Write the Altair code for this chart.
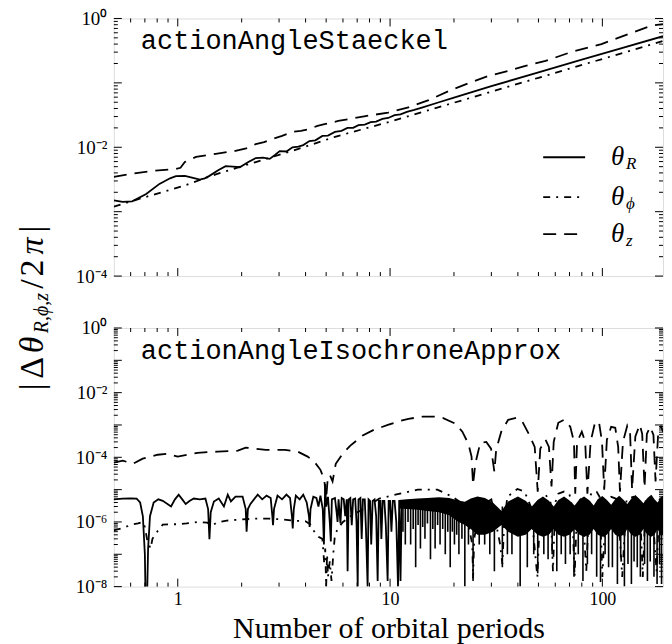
import altair as alt
import pandas as pd

SERIF = "Liberation Serif"
MONO = "Liberation Mono"

# ---------------- data ----------------
# top panel: actionAngleStaeckel
TOP_R = [(0.5, 1.5e-3), (0.55, 1.42e-3), (0.61, 1.45e-3), (0.71, 1.88e-3), (0.82, 2.7e-3),
         (0.92, 3.3e-3), (0.98, 3.56e-3), (1.08, 3.6e-3), (1.18, 3.35e-3), (1.27, 3.15e-3),
         (1.34, 3.3e-3), (1.41, 3.6e-3), (1.55, 4.4e-3), (1.68, 5.1e-3), (1.82, 5.0e-3),
         (1.96, 4.9e-3), (2.15, 5.9e-3), (2.33, 6.8e-3), (2.52, 6.9e-3), (2.71, 6.6e-3),
         (2.87, 7.6e-3), (3.02, 8.7e-3), (3.25, 8.6e-3), (3.47, 1.0e-2), (3.7, 1.02e-2),
         (3.9, 1.08e-2), (4.17, 1.25e-2), (4.45, 1.28e-2), (4.8, 1.5e-2), (5.1, 1.52e-2),
         (5.5, 1.73e-2), (5.9, 1.8e-2), (6.3, 2.0e-2), (6.7, 2.0e-2), (7.1, 2.2e-2),
         (7.6, 2.25e-2), (8.1, 2.45e-2), (8.6, 2.5e-2), (9.2, 2.75e-2), (9.8, 2.85e-2),
         (10.5, 3.15e-2), (11.2, 3.25e-2), (12, 3.55e-2), (13, 3.8e-2), (14, 4.1e-2),
         (17, 5.0e-2), (20, 5.9e-2), (30, 8.9e-2), (50, 0.145), (80, 0.23), (120, 0.336),
         (193, 0.53)]
TOP_PHI = [(0.5, 1.2e-3), (0.55, 1.32e-3), (0.71, 1.7e-3), (1.06, 2.5e-3), (1.51, 3.8e-3),
           (2.33, 5.9e-3), (3.47, 8.8e-3), (5.5, 1.45e-2), (10, 2.5e-2), (17, 4.2e-2),
           (30, 7.3e-2), (50, 0.12), (100, 0.235), (193, 0.447)]
TOP_Z = [(0.5, 3.47e-3), (0.61, 3.9e-3), (0.76, 4.3e-3), (0.98, 4.6e-3), (1.03, 4.8e-3),
         (1.08, 5.9e-3), (1.22, 7.1e-3), (1.51, 7.9e-3), (1.87, 8.8e-3), (2.1, 9.6e-3),
         (2.33, 1.12e-2), (2.55, 1.2e-2), (2.8, 1.35e-2), (3.1, 1.5e-2), (3.47, 1.73e-2),
         (3.8, 1.8e-2), (4.17, 1.92e-2), (4.55, 2.15e-2), (4.97, 2.3e-2), (5.7, 2.56e-2),
         (6.6, 2.8e-2), (7.67, 3.05e-2), (9.8, 3.45e-2), (12.2, 4.15e-2), (15.2, 5.4e-2),
         (18.8, 7.4e-2), (24.2, 0.103), (29.1, 0.128), (36, 0.153), (43, 0.182), (54, 0.219),
         (71, 0.30), (99, 0.40), (132, 0.57), (170, 0.77), (193, 0.82)]

# bottom panel: actionAngleIsochroneApprox
BOT_R = [(0.50, 5.0e-6), (0.55, 5.3e-6), (0.60, 5.4e-6), (0.64, 5.3e-6), (0.665, 4.0e-6),
         (0.685, 1.5e-6), (0.70, 1.0e-7), (0.706, 3e-9), (0.716, 3e-9), (0.725, 1.5e-7),
         (0.74, 1.5e-6), (0.77, 4.0e-6), (0.81, 5.0e-6), (0.85, 4.5e-6), (0.93, 3.0e-6),
         (0.97, 5e-6), (1.01, 7.0e-6), (1.05, 5.0e-6), (1.09, 3.6e-6), (1.14, 4.5e-6),
         (1.19, 5.3e-6), (1.27, 5.0e-6), (1.35, 5.3e-6), (1.39, 2.5e-6), (1.41, 2.9e-7),
         (1.43, 2.0e-6), (1.48, 4.3e-6), (1.56, 5.3e-6), (1.65, 3.0e-6), (1.72, 7.0e-6),
         (1.78, 4.3e-6), (1.87, 6.1e-6), (2.02, 6.1e-6), (2.09, 2.5e-6), (2.11, 5.0e-7),
         (2.14, 2.5e-6), (2.2, 3.6e-6), (2.38, 7.0e-6), (2.5, 5.0e-6), (2.62, 6.5e-6),
         (2.74, 5.5e-6), (2.79, 1.5e-6), (2.81, 8.0e-7), (2.84, 2.5e-6), (2.95, 6.5e-6),
         (3.1, 5.0e-6), (3.25, 7.0e-6), (3.38, 5.5e-6), (3.45, 1.5e-6), (3.48, 6.3e-7),
         (3.52, 2.5e-6), (3.6, 6.5e-6), (3.75, 5.0e-6), (3.9, 7.0e-6), (4.05, 4.0e-6),
         (4.15, 1.5e-6), (4.18, 7.0e-7), (4.22, 2.5e-6), (4.35, 6.0e-6), (4.5, 5.5e-6),
         (4.6, 3.0e-6), (4.7, 6.5e-6), (4.82, 2.5e-6), (4.88, 2.0e-7), (4.95, 1.5e-5),
         (5.0, 3e-6), (5.1, 6e-6), (5.2, 1e-6), (5.26, 2.5e-7), (5.32, 5e-6), (5.5, 5.5e-6),
         (5.6, 2e-6), (5.66, 1e-6), (5.72, 5e-6), (5.84, 9e-7), (5.92, 5.5e-6), (6.05, 5e-6),
         (6.15, 1.5e-6), (6.25, 5e-6), (6.31, 3e-8), (6.38, 5e-6), (6.5, 5.5e-6), (6.6, 8e-7),
         (6.7, 5e-6), (6.85, 5.3e-6), (6.95, 1.0e-6), (7.04, 1e-8), (7.1, 5e-6), (7.25, 5.5e-6),
         (7.35, 3e-7), (7.45, 5e-6), (7.6, 5e-6), (7.7, 6e-7), (7.84, 1e-8), (7.92, 5e-6),
         (8.05, 4.5e-6), (8.15, 2e-7), (8.28, 4.5e-6), (8.45, 5e-6), (8.6, 1.5e-6),
         (8.74, 1.5e-8), (8.85, 4.5e-6), (9.0, 4.5e-6), (9.1, 3e-7), (9.23, 4.5e-6),
         (9.4, 4.5e-6), (9.55, 8e-7), (9.74, 1.5e-8), (9.85, 4.5e-6), (10.0, 4.5e-6),
         (10.15, 5e-7), (10.3, 4.5e-6), (10.5, 4.5e-6), (10.7, 1e-6), (10.9, 1e-8),
         (11.05, 4.8e-6), (11.2, 1.5e-8), (11.35, 4.8e-6)]
# dense part of theta_R: upper envelope and lower edge of the solid black band
BOT_R_BAND = [(11.0, 4.8e-6, 2.6e-6), (12.0, 5.0e-6, 2.5e-6), (13.5, 5.3e-6, 2.4e-6),
              (15.0, 5.5e-6, 2.2e-6), (17.0, 5.8e-6, 2.0e-6), (19.0, 5.5e-6, 1.6e-6),
              (21.0, 4.6e-6, 1.0e-6), (22.5, 4.2e-6, 8e-7), (24.0, 5.3e-6, 6e-7),
              (25.8, 6.1e-6, 4e-7), (28.0, 5.5e-6, 4e-7), (30.5, 4.0e-6, 5e-7),
              (33.5, 2.2e-6, 8e-7), (36.0, 4.3e-6, 5e-7), (40.0, 6.1e-6, 3.5e-7),
              (43.5, 4.5e-6, 4e-7), (46.5, 3.0e-6, 6e-7), (49.5, 4.8e-6, 4e-7),
              (52.5, 6.1e-6, 3.5e-7), (56.0, 4.5e-6, 4e-7), (59.0, 3.0e-6, 6e-7),
              (62.0, 4.8e-6, 4e-7), (66.0, 6.1e-6, 3.5e-7), (70.0, 4.6e-6, 4e-7),
              (74.0, 3.2e-6, 6e-7), (78.0, 5.0e-6, 4e-7), (82.0, 6.1e-6, 3.5e-7),
              (87.0, 4.6e-6, 4e-7), (91.0, 3.2e-6, 6e-7), (95.0, 5.0e-6, 4e-7),
              (100.0, 6.3e-6, 3.5e-7), (105.0, 4.8e-6, 4e-7), (110.0, 3.4e-6, 6e-7),
              (115.0, 5.0e-6, 4e-7), (120.0, 6.5e-6, 3.5e-7), (126.0, 4.8e-6, 4e-7),
              (131.0, 3.6e-6, 6e-7), (137.0, 5.3e-6, 4e-7), (143.0, 6.8e-6, 3.5e-7),
              (150.0, 5.0e-6, 4e-7), (156.0, 3.8e-6, 6e-7), (163.0, 5.5e-6, 4e-7),
              (170.0, 7.0e-6, 3.5e-7), (176.0, 5.0e-6, 4e-7), (182.0, 4.0e-6, 6e-7),
              (188.0, 5.5e-6, 4e-7), (193.0, 6.5e-6, 4e-7)]
# downward spikes of theta_R in the dense part (x, depth)
BOT_R_SPIKES = [(11.5, 5e-7), (11.8, 2e-7), (12.15, 1e-6), (12.5, 2e-7), (12.85, 6e-7),
                (13.2, 4e-8), (13.55, 8e-7), (13.9, 1.5e-7), (14.25, 7e-7), (14.6, 3e-7),
                (15.0, 9e-7), (15.5, 7e-8), (15.9, 6e-7), (16.3, 1.5e-7), (16.75, 8e-7),
                (17.2, 2e-7), (17.7, 6e-7), (18.2, 1e-7), (18.7, 5e-7), (19.2, 4e-8),
                (19.65, 5e-7), (20.1, 2e-7), (20.6, 4e-7), (21.1, 1e-7), (21.8, 3e-7),
                (22.5, 1e-8), (23.4, 2e-7), (24.6, 1.5e-8), (26.3, 2e-7), (27.9, 2e-7),
                (29.5, 1e-7), (31.0, 3e-8), (33.8, 4e-8), (35.7, 1e-7), (37.5, 1e-7),
                (41.0, 1e-8), (44.3, 4e-8), (47.5, 1e-7), (49.6, 2.6e-8), (53, 1e-7),
                (55.5, 7e-8), (58, 1e-7), (61, 3e-8), (64, 1e-7), (67, 5e-8), (70.5, 1e-7),
                (73.5, 2e-8), (77, 1e-7), (81, 1.5e-8), (85, 5e-8), (89, 1e-7), (94, 2e-8),
                (98, 1.4e-8), (103, 1e-7), (107, 4e-8), (111.5, 4e-8), (117.7, 1.2e-8),
                (122, 8e-8), (127, 1e-8), (132, 5e-8), (137, 1.2e-8), (141, 6e-8), (146, 4e-8),
                (151, 2e-8), (158, 5e-8), (163, 1.5e-8), (168, 6e-8), (175, 2e-8),
                (181, 1.2e-8), (186, 5e-8), (190, 1.2e-8)]
BOT_PHI = [(0.5, 5.5e-7), (0.55, 6.5e-7), (0.61, 8.3e-7), (0.65, 9e-7), (0.684, 1.0e-6),
           (0.7, 7e-7), (0.72, 2.5e-7), (0.745, 1.5e-7), (0.76, 3e-7), (0.8, 5e-7),
           (0.85, 8.3e-7), (0.93, 8.5e-7), (1.0, 8.5e-7), (1.1, 9e-7), (1.25, 1.0e-6),
           (1.38, 9.5e-7), (1.45, 7.5e-7), (1.52, 9.5e-7), (1.7, 1.1e-6), (2.0, 1.2e-6),
           (2.3, 1.26e-6), (2.7, 1.26e-6), (3.1, 1.2e-6), (3.5, 1.1e-6), (4.0, 1.05e-6),
           (4.2, 8.5e-7), (4.4, 5.0e-7), (4.6, 3.5e-7), (4.8, 3e-7), (4.9, 5e-8),
           (4.95, 1.5e-7), (5.0, 1e-8), (5.05, 1e-7), (5.1, 2e-8), (5.2, 6e-8), (5.3, 1.5e-8),
           (5.4, 1e-7), (5.5, 4e-7), (5.7, 6.5e-7), (6.0, 1e-6), (6.6, 1.6e-6), (7.5, 2.5e-6),
           (8.9, 5.3e-6), (10.6, 7e-6), (13.5, 1.0e-5), (16.7, 1.0e-5), (19.7, 6e-6),
           (21.5, 4e-6), (23, 1.5e-6), (24.4, 2e-7), (24.6, 1.8e-8), (24.9, 3e-7),
           (26.5, 3e-6), (30, 5e-6), (33, 2e-7), (33.8, 5e-8), (34.5, 1e-6), (35.7, 6e-6),
           (39.8, 1.05e-5), (43, 8.7e-6), (46, 3e-6), (49.4, 2e-8), (51, 3e-6), (54, 7e-6),
           (57, 4e-6), (58.5, 3e-8), (60, 4e-6), (62, 7.5e-6), (66, 8.7e-6), (70, 7e-6),
           (72, 3e-6), (74, 2e-8), (76, 3e-6), (80, 6e-6), (84, 3e-8), (87, 6e-6), (90, 8.7e-6),
           (94, 8.5e-6), (97, 6e-6), (100, 2e-8), (104, 4e-6), (110, 6e-6), (118, 5e-6),
           (124, 2e-8), (130, 5e-6), (140, 6e-6), (150, 4e-6), (155, 2e-8), (160, 5e-6),
           (170, 6e-6), (180, 3e-8), (186, 5e-6), (193, 6e-6)]
BOT_Z = [(0.5, 6.8e-5), (0.551, 7.9e-5), (0.614, 6.3e-5), (0.684, 9.1e-5), (0.805, 1.2e-4),
         (0.897, 1.29e-4), (1.0, 1.05e-4), (1.24, 1.38e-4), (1.54, 1.5e-4), (1.92, 1.6e-4),
         (2.09, 2.0e-4), (2.6, 1.7e-4), (3.2, 1.7e-4), (3.67, 1.5e-4), (4.09, 1.05e-4),
         (4.4, 7.3e-5), (4.7, 4.1e-5), (4.9, 2.0e-5), (5.0, 5.3e-6), (5.08, 2e-5),
         (5.2, 2.9e-5), (5.36, 1.8e-5), (5.55, 6.3e-5), (5.98, 1.29e-4), (6.5, 2.3e-4),
         (7.43, 4.7e-4), (8.4, 7.1e-4), (9.84, 1.02e-3), (11.2, 1.35e-3), (12.2, 1.55e-3),
         (14.2, 1.8e-3), (16.2, 1.8e-3), (17.7, 1.66e-3), (20.3, 1.1e-3), (21.9, 6.2e-4),
         (23.4, 2.6e-4), (24.2, 1.05e-4), (24.6, 1.4e-5), (25.2, 6.3e-5), (26.6, 2.8e-4),
         (28.4, 3.0e-4), (29.9, 1.85e-4), (31, 3.6e-5), (31.6, 1.7e-4), (33.4, 6.2e-4),
         (36, 1.45e-3), (39.3, 1.66e-3), (42, 1.26e-3), (45, 5.3e-4), (48, 2.1e-4),
         (49.6, 8.7e-6), (51, 1.85e-4), (54, 3.5e-4), (56, 2.1e-4), (57.6, 1.25e-5),
         (59, 3e-4), (62, 1.17e-3), (66, 1.45e-3), (70.6, 8.8e-4), (73.5, 3e-4),
         (74.5, 7.5e-6), (76, 3e-4), (80, 6.2e-4), (83, 3e-4), (85, 7.5e-6), (88, 3e-4),
         (92.5, 1.26e-3), (96.5, 1.17e-3), (99.6, 3e-4), (102, 1e-5), (105, 3.5e-4),
         (110, 8.8e-4), (115, 8.2e-4), (118.7, 2.1e-4), (121, 8.7e-6), (125, 3e-4),
         (131, 9.5e-4), (135, 6.2e-4), (138, 1e-5), (143, 4.4e-4), (150, 1.02e-3),
         (154, 5.3e-4), (158, 1.15e-5), (162, 5.3e-4), (168, 8.8e-4), (174, 4.9e-4),
         (178, 1.8e-5), (183, 4.9e-4), (189, 8.8e-4), (193, 6.2e-4)]

# ticks / labels
X_DOMAIN = [0.5, 193]
X_LABELS = [1, 10, 100]
X_MINOR = [0.6, 0.7, 0.8, 0.9, 2, 3, 4, 5, 6, 7, 8, 9, 20, 30, 40, 50, 60, 70, 80, 90]
TOP_Y_LABELS = [1, 1e-2, 1e-4]
BOT_Y_LABELS = [1, 1e-2, 1e-4, 1e-6, 1e-8]
TOP_DECADES = [1, 1e-1, 1e-2, 1e-3, 1e-4]
BOT_DECADES = [1, 1e-1, 1e-2, 1e-3, 1e-4, 1e-5, 1e-6, 1e-7, 1e-8]
MINOR_MULT = [2, 3, 4, 5, 6, 7, 8, 9]
LEGEND_SUBS = ["R", "ϕ", "z"]
# y-axis title pieces: text, style, size
YTITLE = [("|", "normal", 34), ("Δ", "normal", 34), ("θ", "italic", 34),
          ("R,ϕ,z", "italic", 20), ("/", "normal", 34), ("2", "normal", 34),
          ("π", "italic", 34), ("|", "normal", 34)]
YTITLE_POS = [369, 350, 327, 295, 266, 250, 228, 211]

W, H_TOP, H_BOT = 550, 258, 259
LW = 1.8
DASH = [13, 8]
DASHDOT = [7, 6, 2, 6]

Y_LABEL_EXPR = ("datum.value > 0.5 ? '10⁰' : datum.value > 0.05 ? '10⁻¹' : "
                "datum.value > 0.005 ? '10⁻²' : datum.value > 0.0005 ? '10⁻³' : "
                "datum.value > 0.00005 ? '10⁻⁴' : datum.value > 0.0000005 ? '10⁻⁶' : '10⁻⁸'")


def pts(lst, cols=("x", "y")):
    return pd.DataFrame(lst, columns=list(cols))


def txt(s, x, y, size, font=SERIF, style="normal", angle=0, align="left", baseline="middle"):
    return alt.Chart(pd.DataFrame({"t": [s]})).mark_text(
        align=align, baseline=baseline, font=font, fontSize=size, fontStyle=style,
        angle=angle, color="black").encode(x=alt.value(x), y=alt.value(y), text="t:N")


def panel(height, ydom, ylabels, decades, lines, extra, show_x, title_text):
    xs = alt.Scale(type="log", domain=X_DOMAIN, nice=False)
    ys = alt.Scale(type="log", domain=ydom, nice=False)
    xaxis = alt.Axis(values=X_LABELS, format="d", ticks=False, domain=False, grid=False,
                     labels=show_x, title="Number of orbital periods" if show_x else None,
                     labelFont=SERIF, labelFontSize=18, labelColor="black", labelPadding=4,
                     titleFont=SERIF, titleFontSize=30, titleFontWeight="normal",
                     titleColor="black", titlePadding=5)
    yaxis = alt.Axis(values=ylabels, labelExpr=Y_LABEL_EXPR, ticks=False, domain=False,
                     grid=False, title=None, labelFont=SERIF, labelFontSize=19,
                     labelColor="black", labelPadding=7)
    X = alt.X("x:Q", scale=xs, axis=xaxis)
    Y = alt.Y("y:Q", scale=ys, axis=yaxis)

    layers = []
    for kind, df in extra:
        if kind == "band":
            layers.append(alt.Chart(df).mark_area(color="black", clip=True)
                          .encode(x=X, y=Y, y2=alt.Y2("y2:Q")))
        elif kind == "spikes":
            layers.append(alt.Chart(df).mark_rule(color="black", strokeWidth=1.6, clip=True)
                          .encode(x=X, y=Y, y2=alt.Y2("y2:Q")))
    for df, dash in lines:
        kw = dict(color="black", strokeWidth=LW, clip=True)
        if dash:
            kw["strokeDash"] = dash
        layers.append(alt.Chart(df).mark_line(**kw).encode(x=X, y=Y))

    # inward ticks on all four sides
    xmaj = pd.DataFrame({"x": X_LABELS})
    xmin = pd.DataFrame({"x": X_MINOR})
    ymaj = pd.DataFrame({"y": decades})
    ymin = pd.DataFrame({"y": [m * d for d in decades[1:] for m in MINOR_MULT]})
    for df, L in ((xmaj, 8), (xmin, 4)):
        layers.append(alt.Chart(df).mark_rule(color="black", strokeWidth=1)
                      .encode(x=X, y=alt.value(0), y2=alt.value(L)))
        layers.append(alt.Chart(df).mark_rule(color="black", strokeWidth=1)
                      .encode(x=X, y=alt.value(height), y2=alt.value(height - L)))
    for df, L in ((ymaj, 8), (ymin, 4)):
        layers.append(alt.Chart(df).mark_rule(color="black", strokeWidth=1)
                      .encode(y=Y, x=alt.value(0), x2=alt.value(L)))
        layers.append(alt.Chart(df).mark_rule(color="black", strokeWidth=1)
                      .encode(y=Y, x=alt.value(W), x2=alt.value(W - L)))

    layers.append(txt(title_text, 27, 31, 27, font=MONO, baseline="alphabetic"))
    return layers


# ---------------- top panel ----------------
top_layers = panel(
    H_TOP, [1e-4, 1], TOP_Y_LABELS, TOP_DECADES,
    [(pts(TOP_R), None), (pts(TOP_PHI), DASHDOT), (pts(TOP_Z), DASH)],
    [], False, "actionAngleStaeckel")

# legend (inside top panel)
for ly, dash, sub in zip([139, 179, 216], [None, DASHDOT, DASH], LEGEND_SUBS):
    kw = dict(color="black", strokeWidth=LW)
    if dash:
        kw["strokeDash"] = dash
    top_layers.append(alt.Chart(pd.DataFrame({"a": [0]})).mark_rule(**kw)
                      .encode(x=alt.value(430), x2=alt.value(472), y=alt.value(ly)))
    top_layers.append(txt("θ", 498, ly, 27, style="italic"))
    top_layers.append(txt(sub, 513, ly + 7, 17, style="italic"))

# shared y-axis title (rotated), placed glyph by glyph across the gap
for (s, style, size), yc in zip(YTITLE, YTITLE_POS):
    xc = -72 if size < 30 else -81
    top_layers.append(txt(s, xc, yc, size, style=style, angle=270, align="center"))

top = alt.layer(*top_layers).properties(width=W, height=H_TOP)

# ---------------- bottom panel ----------------
bot_layers = panel(
    H_BOT, [1e-8, 1], BOT_Y_LABELS, BOT_DECADES,
    [(pts(BOT_PHI), DASHDOT), (pts(BOT_R), None), (pts(BOT_Z), DASH)],
    [("band", pts(BOT_R_BAND, ("x", "y", "y2"))),
     ("spikes", pd.DataFrame([(x, 3e-6, d) for x, d in BOT_R_SPIKES], columns=["x", "y", "y2"]))],
    True, "actionAngleIsochroneApprox")
bottom = alt.layer(*bot_layers).properties(width=W, height=H_BOT)

chart = (alt.vconcat(top, bottom, spacing=52, bounds="flush")
         .resolve_scale(x="independent", y="independent")
         .properties(padding={"left": 7, "top": 0, "right": 0, "bottom": 0})
         .configure_view(stroke="black", strokeWidth=1.6)
         .configure(background="white"))

chart.save("out.html", embed_options={"renderer": "svg", "actions": False})
